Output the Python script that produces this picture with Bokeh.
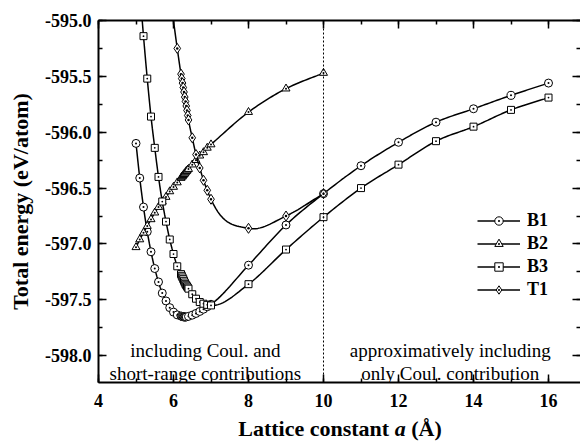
import numpy as np
from bokeh.plotting import figure
from bokeh.models import (LinearAxis, SingleIntervalTicker, PrintfTickFormatter, Span,
                          Label, Legend, LegendItem, Range1d, Div)
from bokeh.layouts import column
from bokeh.embed import file_html
from bokeh.resources import INLINE

# ---------------- data ----------------
b1_x = [5.0, 5.1, 5.2, 5.3, 5.4, 5.5, 5.6, 5.7, 5.8, 5.9, 6.0, 6.1,
        6.2, 6.22, 6.24, 6.26, 6.28, 6.3, 6.32, 6.34,
        6.4, 6.5, 6.6, 6.7, 6.8, 6.9, 7.0, 8, 9, 10, 11, 12, 13, 14, 15, 16]
b1_y = [-596.10, -596.41, -596.67, -596.89, -597.07, -597.22, -597.34, -597.44, -597.51, -597.57, -597.61, -597.635,
        -597.645, -597.648, -597.650, -597.652, -597.653, -597.654, -597.654, -597.653,
        -597.648, -597.637, -597.622, -597.604, -597.584, -597.562, -597.54,
        -597.19, -596.83, -596.55, -596.30, -596.09, -595.91, -595.79, -595.67, -595.56]

b2_x = [5.0, 5.1, 5.2, 5.3, 5.4, 5.5, 5.6, 5.7, 5.8, 5.9, 6.0, 6.1,
        6.2, 6.22, 6.24, 6.26, 6.28, 6.3, 6.32, 6.34, 6.36, 6.38, 6.4,
        6.5, 6.6, 6.7, 6.8, 6.9, 7.0, 8, 9, 10]
b2_y = [-597.03, -596.96, -596.90, -596.84, -596.78, -596.72, -596.67, -596.62, -596.58, -596.53, -596.49, -596.45,
        -596.41, -596.40, -596.395, -596.385, -596.375, -596.37, -596.36, -596.35, -596.345, -596.335, -596.33,
        -596.29, -596.25, -596.21, -596.18, -596.14, -596.11, -595.82, -595.61, -595.47]

b3_x = [5.1, 5.2, 5.3, 5.4, 5.5, 5.6, 5.7, 5.8, 5.9, 6.0, 6.1,
        6.2, 6.22, 6.24, 6.26, 6.28, 6.3, 6.32, 6.34, 6.36, 6.38, 6.4,
        6.5, 6.6, 6.7, 6.8, 6.9, 7.0, 8, 9, 10, 11, 12, 13, 14, 15, 16]
b3_y = [-594.72, -595.14, -595.52, -595.86, -596.14, -596.40, -596.62, -596.80, -596.96, -597.09, -597.20,
        -597.27, -597.285, -597.30, -597.315, -597.33, -597.345, -597.36, -597.37, -597.38, -597.39, -597.40,
        -597.45, -597.49, -597.52, -597.535, -597.545, -597.55,
        -597.36, -597.05, -596.76, -596.50, -596.29, -596.08, -595.95, -595.80, -595.69]

t1_x = [5.9, 6.1,
        6.2, 6.22, 6.24, 6.26, 6.28, 6.3, 6.32, 6.34, 6.36, 6.38, 6.4,
        6.5, 6.6, 6.7, 6.8, 6.9, 7.0, 8, 9, 10]
t1_y = [-594.75, -595.25,
        -595.48, -595.52, -595.56, -595.60, -595.64, -595.685, -595.725, -595.765, -595.805, -595.85, -595.89,
        -596.05, -596.20, -596.32, -596.43, -596.52, -596.60, -596.86, -596.75, -596.55]

series_names = ["B1", "B2", "B3", "T1"]
series_markers = ["circle_dot", "triangle_dot", "square_dot", "diamond_dot"]
marker_sizes = [8, 8, 7, 10]

x_ticks_interval = 2
y_ticks_interval = 0.5
left_text = ["including Coul. and", "short-range contributions"]
right_text = ["approximatively including", "only Coul. contribution"]


def smooth(xs, ys, n=16):
    x = np.asarray(xs, float)
    y = np.asarray(ys, float)
    dx = np.diff(x)
    s = np.diff(y) / dx
    m = np.empty_like(y)
    m[0] = s[0]
    m[-1] = s[-1]
    m[1:-1] = (s[:-1] * dx[1:] + s[1:] * dx[:-1]) / (dx[:-1] + dx[1:])
    ox, oy = [], []
    t = np.linspace(0, 1, n, endpoint=False)
    h00 = 2 * t**3 - 3 * t**2 + 1
    h10 = t**3 - 2 * t**2 + t
    h01 = -2 * t**3 + 3 * t**2
    h11 = t**3 - t**2
    for i in range(len(x) - 1):
        h = dx[i]
        ox.extend(x[i] + t * h)
        oy.extend(h00 * y[i] + h10 * h * m[i] + h01 * y[i + 1] + h11 * h * m[i + 1])
    ox.append(x[-1])
    oy.append(y[-1])
    return ox, oy


FONT = "Liberation Serif"

p = figure(width=580, height=416, x_range=Range1d(4, 16.853), y_range=Range1d(-598.24, -595.0),
           output_backend="svg", toolbar_location=None,
           min_border_left=98, min_border_right=0, min_border_top=20, min_border_bottom=34,
           x_axis_type=None, y_axis_type=None, margin=(0, 0, 0, 0))
p.xgrid.visible = False
p.ygrid.visible = False
p.outline_line_color = None
p.background_fill_color = "white"
p.border_fill_color = "white"


def style(ax, labels=True):
    ax.axis_line_width = 2
    ax.axis_line_color = "black"
    ax.major_tick_in = 8
    ax.major_tick_out = 0
    ax.minor_tick_in = 4
    ax.minor_tick_out = 0
    ax.major_tick_line_width = 1.5
    ax.minor_tick_line_width = 1.5
    ax.major_tick_line_color = "black"
    ax.minor_tick_line_color = "black"
    ax.major_label_text_font = FONT
    ax.major_label_text_font_style = "bold"
    ax.major_label_text_font_size = "18px"
    ax.major_label_text_color = "black"
    if not labels:
        ax.major_label_text_font_size = "0px"
        ax.major_label_text_color = None
        ax.major_label_standoff = 0


xb = LinearAxis(ticker=SingleIntervalTicker(interval=x_ticks_interval, num_minor_ticks=2))
style(xb)
xb.major_label_standoff = 11
p.add_layout(xb, "below")

xt = LinearAxis(ticker=SingleIntervalTicker(interval=x_ticks_interval, num_minor_ticks=2))
style(xt, labels=False)
p.add_layout(xt, "above")

yl = LinearAxis(ticker=SingleIntervalTicker(interval=y_ticks_interval, num_minor_ticks=2),
                formatter=PrintfTickFormatter(format="%.1f"))
style(yl)
yl.major_label_standoff = 7
yl.axis_label = "Total energy (eV/atom)"
yl.axis_label_text_font = FONT
yl.axis_label_text_font_style = "bold"
yl.axis_label_text_font_size = "22px"
yl.axis_label_text_color = "black"
yl.axis_label_standoff = 9
p.add_layout(yl, "left")

yr = LinearAxis(ticker=SingleIntervalTicker(interval=y_ticks_interval, num_minor_ticks=2))
style(yr, labels=False)
yr.axis_line_color = None
p.add_layout(yr, "right")

p.add_layout(Span(location=10, dimension="height", line_color="black", line_dash="2 2", line_width=1))

items = []
for name, xs, ys, mk, sz in zip(series_names, [b1_x, b2_x, b3_x, t1_x], [b1_y, b2_y, b3_y, t1_y],
                                series_markers, marker_sizes):
    sx, sy = smooth(xs, ys)
    lr = p.line(sx, sy, line_color="black", line_width=1.5)
    mr = p.scatter(xs, ys, marker=mk, size=sz, fill_color="white", line_color="black", line_width=1)
    items.append(LegendItem(label=name, renderers=[lr, mr]))

leg = Legend(items=items, location=(379, 82), glyph_width=43, glyph_height=21, label_height=21,
             spacing=2, padding=0, margin=0, label_standoff=7,
             label_text_font=FONT, label_text_font_style="bold", label_text_font_size="18px",
             label_text_color="black", border_line_color=None, background_fill_alpha=0)
p.add_layout(leg)

for txt, yy in zip(left_text, [-597.955, -598.158]):
    p.add_layout(Label(x=6.85, y=yy, text=txt, text_align="center", text_baseline="alphabetic",
                       text_font=FONT, text_font_size="19px", text_color="black"))
for txt, yy in zip(right_text, [-597.955, -598.158]):
    p.add_layout(Label(x=13.38, y=yy, text=txt, text_align="center", text_baseline="alphabetic",
                       text_font=FONT, text_font_size="19px", text_color="black"))

# x-axis title (with italic "a") as real HTML text below the figure
xtitle = Div(text=('<div style="width:484px;margin:0 0 0 98px;padding:0;text-align:center;'
                   "font-family:'Liberation Serif';font-weight:bold;font-size:22px;line-height:26px;"
                   'color:black;white-space:nowrap;">Lattice constant <i>a</i> (Å)</div>'),
             width=580, height=27, margin=(0, 0, 0, 0))

layout = column(p, xtitle, spacing=0)
open("out.html", "w").write(file_html(layout, INLINE))
